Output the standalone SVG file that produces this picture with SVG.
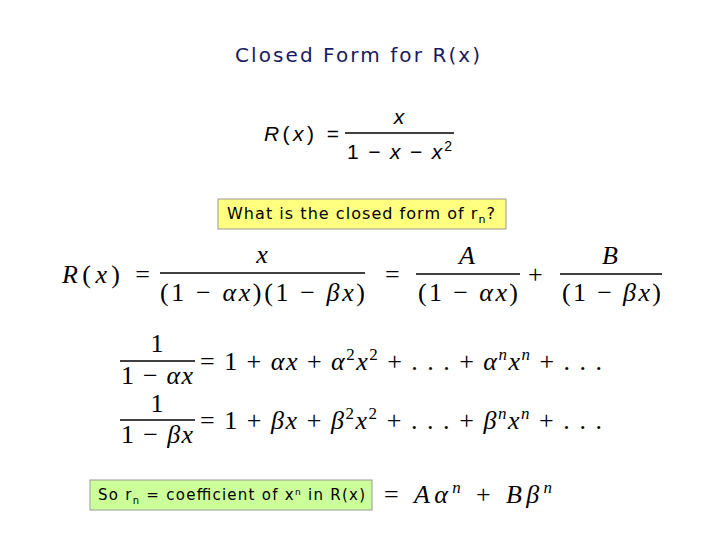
<svg xmlns="http://www.w3.org/2000/svg" width="720" height="540" viewBox="0 0 720 540">
<style>
.t{font-family:"DejaVu Sans",sans-serif;fill:#000}
.m{font-family:"Liberation Serif",serif;font-size:26px;fill:#000}
.i{font-style:italic}
.s{font-family:"Liberation Sans",sans-serif;font-size:21px}
.fl{stroke:#000;stroke-width:1.3}
</style>
<rect width="720" height="540" fill="#fff"/>
<text x="235" y="62" class="t" font-size="20" textLength="245" style="fill:#1a1a5e">Closed Form for R(x)</text>
<g id="eq1">
<text x="264" y="141" class="s" textLength="75"><tspan class="i">R</tspan>(<tspan class="i">x</tspan>) =</text>
<text x="399" y="124" text-anchor="middle" class="s i">x</text>
<line x1="345" y1="133" x2="454" y2="133" class="fl"/>
<text x="347" y="159" class="s" textLength="105">1 − <tspan class="i">x</tspan> − <tspan class="i">x</tspan><tspan font-size="14" dy="-8">2</tspan></text>
</g>
<g id="question">
<rect x="218" y="199" width="288" height="30" fill="#ffff80" stroke="#999"/>
<text x="227" y="219" class="t" font-size="16" textLength="268">What is the closed form of r<tspan font-size="11" dy="4">n</tspan><tspan dy="-4">?</tspan></text>
</g>
<g id="eq2">
<text x="62" y="283" class="m" textLength="88"><tspan class="i">R</tspan>(<tspan class="i">x</tspan>) =</text>
<text x="262" y="263" text-anchor="middle" class="m i">x</text>
<line x1="160" y1="273" x2="365" y2="273" class="fl"/>
<text x="160" y="301" class="m" textLength="205"><tspan>(1 − </tspan><tspan class="i">αx</tspan>)(1 − <tspan class="i">βx</tspan>)</text>
<text x="385" y="283" class="m">=</text>
<text x="467" y="264" text-anchor="middle" class="m i">A</text>
<line x1="416" y1="274" x2="520" y2="274" class="fl"/>
<text x="418" y="301" class="m" textLength="100">(1 − <tspan class="i">αx</tspan>)</text>
<text x="528" y="283" class="m">+</text>
<text x="610" y="264" text-anchor="middle" class="m i">B</text>
<line x1="560" y1="274" x2="662" y2="274" class="fl"/>
<text x="562" y="301" class="m" textLength="99">(1 − <tspan class="i">βx</tspan>)</text>
</g>
<g id="eq3">
<text x="157" y="352" text-anchor="middle" class="m">1</text>
<line x1="120" y1="361" x2="195" y2="361" class="fl"/>
<text x="121" y="384" class="m" font-size="24" textLength="72">1 − <tspan class="i">αx</tspan></text>
<text x="200" y="370" class="m" textLength="402">= 1 + <tspan class="i">αx</tspan> + <tspan class="i">α</tspan><tspan font-size="17" dy="-10">2</tspan><tspan class="i" dy="10">x</tspan><tspan font-size="17" dy="-10">2</tspan><tspan dy="10"> + . . . + </tspan><tspan class="i">α</tspan><tspan class="i" font-size="17" dy="-10">n</tspan><tspan class="i" dy="10">x</tspan><tspan class="i" font-size="17" dy="-10">n</tspan><tspan dy="10"> + . . .</tspan></text>
</g>
<g id="eq4">
<text x="157" y="412" text-anchor="middle" class="m" font-size="24">1</text>
<line x1="120" y1="420" x2="195" y2="420" class="fl"/>
<text x="121" y="443" class="m" font-size="24" textLength="72">1 − <tspan class="i">βx</tspan></text>
<text x="200" y="429" class="m" textLength="402">= 1 + <tspan class="i">βx</tspan> + <tspan class="i">β</tspan><tspan font-size="17" dy="-10">2</tspan><tspan class="i" dy="10">x</tspan><tspan font-size="17" dy="-10">2</tspan><tspan dy="10"> + . . . + </tspan><tspan class="i">β</tspan><tspan class="i" font-size="17" dy="-10">n</tspan><tspan class="i" dy="10">x</tspan><tspan class="i" font-size="17" dy="-10">n</tspan><tspan dy="10"> + . . .</tspan></text>
</g>
<g id="conclusion">
<rect x="90" y="480" width="282" height="30" fill="#ccff99" stroke="#999"/>
<text x="98" y="500" class="t" font-size="15" textLength="267">So r<tspan font-size="10" dy="4">n</tspan><tspan dy="-4"> = coefficient of x</tspan><tspan font-size="9" dy="-5">n</tspan><tspan dy="5"> in R(x)</tspan></text>
<text x="384" y="503" class="m" textLength="168">= <tspan class="i">Aα</tspan><tspan class="i" font-size="17" dy="-10">n</tspan><tspan dy="10"> + </tspan><tspan class="i">Bβ</tspan><tspan class="i" font-size="17" dy="-10">n</tspan></text>
</g>
</svg>
